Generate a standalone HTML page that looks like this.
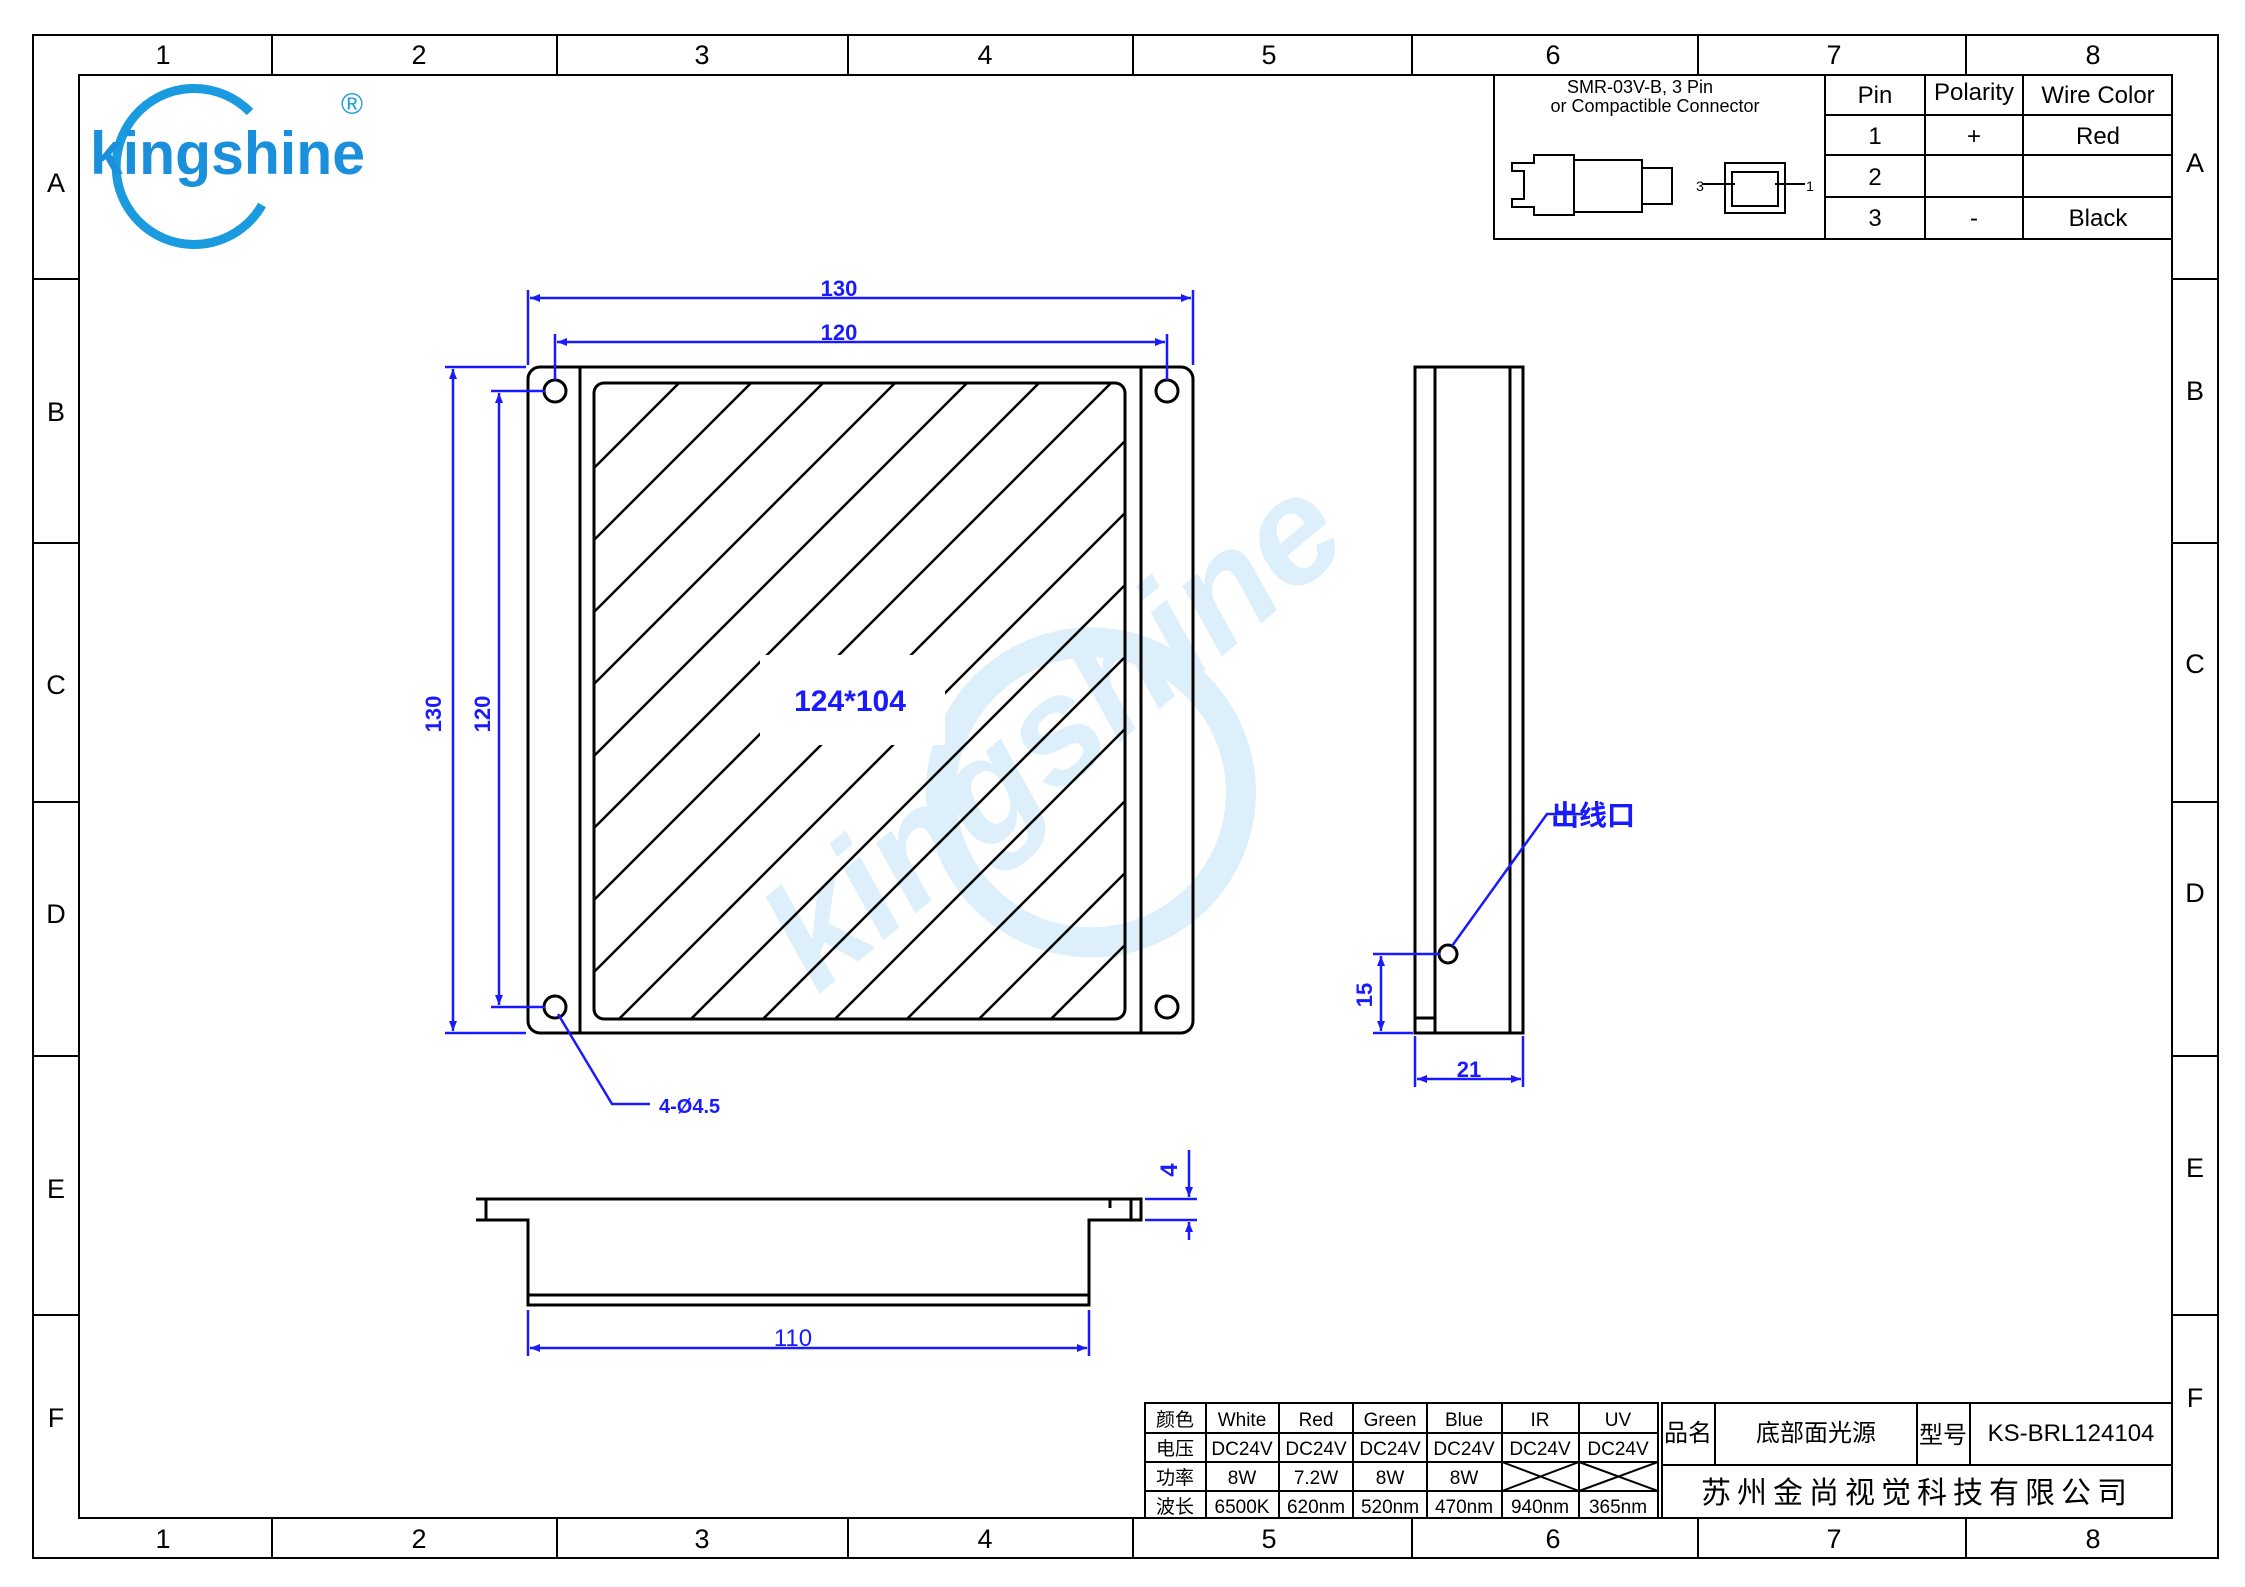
<!DOCTYPE html>
<html><head><meta charset="utf-8"><style>
html,body{margin:0;padding:0;background:#fff;width:2245px;height:1587px;overflow:hidden}
svg{display:block}
text{font-family:"Liberation Sans","Noto Sans CJK SC",sans-serif}
.g{font-size:27px;fill:#000;text-anchor:middle}
.b{fill:#1a1aff;font-weight:bold;text-anchor:middle}
.ct{font-family:"Liberation Serif","Noto Serif CJK SC",serif;font-size:19px;text-anchor:middle}
</style></head><body>
<svg width="2245" height="1587" viewBox="0 0 2245 1587" xmlns="http://www.w3.org/2000/svg">
<defs>
<clipPath id="hc"><rect x="594" y="383" width="531" height="636" rx="10"/></clipPath>
<marker id="ar" markerWidth="10" markerHeight="8" refX="10" refY="4" orient="auto" markerUnits="userSpaceOnUse"><path d="M0,0 L10,4 L0,8 z" fill="#1a1aff"/></marker>
<marker id="al" markerWidth="10" markerHeight="8" refX="0" refY="4" orient="auto" markerUnits="userSpaceOnUse"><path d="M10,0 L0,4 L10,8 z" fill="#1a1aff"/></marker>
</defs>
<rect x="33" y="35" width="2185" height="1523" fill="none" stroke="#000" stroke-width="2"/>
<rect x="79" y="75" width="2093" height="1443" fill="none" stroke="#000" stroke-width="2"/>
<g stroke="#000" stroke-width="2">
<line x1="272" y1="35" x2="272" y2="75"/><line x1="557" y1="35" x2="557" y2="75"/><line x1="848" y1="35" x2="848" y2="75"/><line x1="1133" y1="35" x2="1133" y2="75"/><line x1="1412" y1="35" x2="1412" y2="75"/><line x1="1698" y1="35" x2="1698" y2="75"/><line x1="1966" y1="35" x2="1966" y2="75"/>
<line x1="272" y1="1518" x2="272" y2="1558"/><line x1="557" y1="1518" x2="557" y2="1558"/><line x1="848" y1="1518" x2="848" y2="1558"/><line x1="1133" y1="1518" x2="1133" y2="1558"/><line x1="1412" y1="1518" x2="1412" y2="1558"/><line x1="1698" y1="1518" x2="1698" y2="1558"/><line x1="1966" y1="1518" x2="1966" y2="1558"/>
<line x1="33" y1="279" x2="79" y2="279"/><line x1="33" y1="543" x2="79" y2="543"/><line x1="33" y1="802" x2="79" y2="802"/><line x1="33" y1="1056" x2="79" y2="1056"/><line x1="33" y1="1315" x2="79" y2="1315"/>
<line x1="2172" y1="279" x2="2218" y2="279"/><line x1="2172" y1="543" x2="2218" y2="543"/><line x1="2172" y1="802" x2="2218" y2="802"/><line x1="2172" y1="1056" x2="2218" y2="1056"/><line x1="2172" y1="1315" x2="2218" y2="1315"/>
</g>
<g class="g">
<text x="163" y="64">1</text><text x="419" y="64">2</text><text x="702" y="64">3</text><text x="985" y="64">4</text><text x="1269" y="64">5</text><text x="1553" y="64">6</text><text x="1834" y="64">7</text><text x="2093" y="64">8</text>
<text x="163" y="1548">1</text><text x="419" y="1548">2</text><text x="702" y="1548">3</text><text x="985" y="1548">4</text><text x="1269" y="1548">5</text><text x="1553" y="1548">6</text><text x="1834" y="1548">7</text><text x="2093" y="1548">8</text>
<text x="56" y="192">A</text><text x="56" y="421">B</text><text x="56" y="694">C</text><text x="56" y="923">D</text><text x="56" y="1198">E</text><text x="56" y="1427">F</text>
<text x="2195" y="172">A</text><text x="2195" y="400">B</text><text x="2195" y="673">C</text><text x="2195" y="902">D</text><text x="2195" y="1177">E</text><text x="2195" y="1407">F</text>
</g>
<path d="M250,112 A78,78 0 1 0 262,205" fill="none" stroke="#1a9be0" stroke-width="9"/>
<text x="90" y="174" font-size="60" font-weight="bold" fill="#1a8fdc" textLength="275" lengthAdjust="spacingAndGlyphs">kingshine</text>
<text x="352" y="114" font-size="30" fill="#1a9be0" text-anchor="middle">®</text>
<g opacity="0.15" transform="rotate(-40 1060 740)">
<circle cx="1050" cy="800" r="150" fill="none" stroke="#1a9be0" stroke-width="30"/>
<text x="1060" y="780" font-size="150" font-weight="bold" fill="#1a9be0" text-anchor="middle" font-style="italic">kingshine</text>
</g>
<g stroke="#000" stroke-width="2" fill="none">
<rect x="1494" y="75" width="678" height="164"/>
<line x1="1825" y1="75" x2="1825" y2="239"/><line x1="1925" y1="75" x2="1925" y2="239"/><line x1="2023" y1="75" x2="2023" y2="239"/>
<line x1="1825" y1="115" x2="2172" y2="115"/><line x1="1825" y1="155" x2="2172" y2="155"/><line x1="1825" y1="197" x2="2172" y2="197"/>
<path d="M1512,163 h22 v-8 h40 v60 h-40 v-8 h-22 v-8 h12 v-28 h-12 z"/>
<rect x="1574" y="160" width="68" height="52"/>
<rect x="1642" y="168" width="30" height="36"/>
<rect x="1725" y="163" width="60" height="50"/>
<rect x="1732" y="172" width="46" height="34"/>
<line x1="1702" y1="184" x2="1735" y2="184"/><line x1="1775" y1="184" x2="1805" y2="184"/>
</g>
<g font-size="18" fill="#000" text-anchor="middle"><text x="1640" y="93">SMR-03V-B, 3 Pin</text><text x="1655" y="112">or Compactible Connector</text>
<text x="1700" y="191" font-size="14">3</text><text x="1810" y="191" font-size="14">1</text></g>
<g font-size="24" fill="#000" text-anchor="middle">
<text x="1875" y="103">Pin</text><text x="1974" y="100">Polarity</text><text x="2098" y="103">Wire Color</text>
<text x="1875" y="144">1</text><text x="1974" y="144">+</text><text x="2098" y="144">Red</text>
<text x="1875" y="185">2</text>
<text x="1875" y="226">3</text><text x="1974" y="226">-</text><text x="2098" y="226">Black</text>
</g>
<g stroke="#000" stroke-width="3" fill="none">
<rect x="528" y="367" width="665" height="666" rx="12"/>
<line x1="580" y1="367" x2="580" y2="1033"/><line x1="1141" y1="367" x2="1141" y2="1033"/>
<rect x="594" y="383" width="531" height="636" rx="10"/>
<circle cx="555" cy="391" r="11"/><circle cx="1167" cy="391" r="11"/><circle cx="555" cy="1007" r="11"/><circle cx="1167" cy="1007" r="11"/>
</g>
<g clip-path="url(#hc)" stroke="#000" stroke-width="2.5">
<line x1="0" y1="1062" x2="1100" y2="-38"/><line x1="0" y1="1134" x2="1200" y2="-66"/><line x1="0" y1="1206" x2="1300" y2="-94"/><line x1="0" y1="1278" x2="1400" y2="-122"/><line x1="0" y1="1350" x2="1400" y2="-50"/><line x1="0" y1="1422" x2="1500" y2="-78"/><line x1="0" y1="1494" x2="1600" y2="-106"/><line x1="0" y1="1566" x2="1700" y2="-134"/><line x1="0" y1="1638" x2="1700" y2="-62"/><line x1="0" y1="1710" x2="1800" y2="-90"/><line x1="0" y1="1782" x2="1900" y2="-118"/><line x1="0" y1="1854" x2="2000" y2="-146"/><line x1="0" y1="1926" x2="2000" y2="-74"/><line x1="0" y1="1998" x2="2100" y2="-102"/><line x1="0" y1="2070" x2="2100" y2="-30"/><line x1="0" y1="2142" x2="2200" y2="-58"/>
</g>
<rect x="760" y="655" width="185" height="90" fill="#fff"/>
<text x="850" y="711" class="b" font-size="30" font-weight="normal">124*104</text>
<g stroke="#1a1aff" stroke-width="2.5" fill="none">
<line x1="528" y1="290" x2="528" y2="365"/><line x1="1193" y1="290" x2="1193" y2="365"/>
<line x1="530" y1="298" x2="1191" y2="298" marker-start="url(#al)" marker-end="url(#ar)"/>
<line x1="555" y1="334" x2="555" y2="380"/><line x1="1167" y1="334" x2="1167" y2="380"/>
<line x1="557" y1="342" x2="1165" y2="342" marker-start="url(#al)" marker-end="url(#ar)"/>
<line x1="445" y1="367" x2="526" y2="367"/><line x1="445" y1="1033" x2="526" y2="1033"/>
<line x1="453" y1="369" x2="453" y2="1031" marker-start="url(#al)" marker-end="url(#ar)"/>
<line x1="491" y1="391" x2="545" y2="391"/><line x1="491" y1="1007" x2="545" y2="1007"/>
<line x1="499" y1="393" x2="499" y2="1005" marker-start="url(#al)" marker-end="url(#ar)"/>
<polyline points="558,1014 612,1104 650,1104"/>
</g>
<g class="b" font-size="22" font-weight="normal">
<text x="839" y="296">130</text><text x="839" y="340">120</text>
<text x="441" y="714" transform="rotate(-90 441 714)">130</text>
<text x="490" y="714" transform="rotate(-90 490 714)">120</text>
<text x="659" y="1113" text-anchor="start" font-weight="bold" font-size="20">4-Ø4.5</text>
</g>
<g stroke="#000" stroke-width="3" fill="none">
<rect x="1415" y="367" width="108" height="666"/>
<line x1="1435" y1="367" x2="1435" y2="1033"/><line x1="1510" y1="367" x2="1510" y2="1033"/>
<line x1="1415" y1="1018" x2="1435" y2="1018"/>
<circle cx="1448" cy="954" r="9"/>
</g>
<g stroke="#1a1aff" stroke-width="2.5" fill="none">
<polyline points="1452,946 1547,814 1583,814"/>
<line x1="1373" y1="954" x2="1440" y2="954"/><line x1="1373" y1="1033" x2="1413" y2="1033"/>
<line x1="1381" y1="956" x2="1381" y2="1031" marker-start="url(#al)" marker-end="url(#ar)"/>
<line x1="1415" y1="1036" x2="1415" y2="1087"/><line x1="1523" y1="1036" x2="1523" y2="1087"/>
<line x1="1417" y1="1079" x2="1521" y2="1079" marker-start="url(#al)" marker-end="url(#ar)"/>
</g>
<text x="1593" y="825" class="b" font-size="28" text-anchor="start">出线口</text>
<g class="b" font-size="22"><text x="1372" y="995" transform="rotate(-90 1372 995)">15</text><text x="1469" y="1077">21</text></g>
<g stroke="#000" stroke-width="3" fill="none">
<polyline points="476,1199 1141,1199 1141,1220 1089,1220 1089,1305 528,1305 528,1220 476,1220 z"/>
<line x1="528" y1="1295" x2="1089" y2="1295"/>
<line x1="486" y1="1199" x2="486" y2="1220"/><line x1="1131" y1="1199" x2="1131" y2="1220"/>
<line x1="1110" y1="1199" x2="1110" y2="1208"/>
</g>
<g stroke="#1a1aff" stroke-width="2.5" fill="none">
<line x1="528" y1="1310" x2="528" y2="1356"/><line x1="1089" y1="1310" x2="1089" y2="1356"/>
<line x1="530" y1="1348" x2="1087" y2="1348" marker-start="url(#al)" marker-end="url(#ar)"/>
<line x1="1145" y1="1199" x2="1197" y2="1199"/><line x1="1145" y1="1220" x2="1197" y2="1220"/>
<line x1="1189" y1="1150" x2="1189" y2="1197" marker-end="url(#ar)"/><line x1="1189" y1="1240" x2="1189" y2="1222" marker-end="url(#ar)"/>
</g>
<g class="b" font-size="24"><text x="793" y="1346" font-weight="normal">110</text><text x="1177" y="1170" transform="rotate(-90 1177 1170)">4</text></g>
<g stroke="#000" stroke-width="2" fill="none">
<rect x="1145" y="1403" width="513" height="115"/>
<line x1="1206" y1="1403" x2="1206" y2="1518"/><line x1="1279" y1="1403" x2="1279" y2="1518"/><line x1="1353" y1="1403" x2="1353" y2="1518"/><line x1="1427" y1="1403" x2="1427" y2="1518"/><line x1="1502" y1="1403" x2="1502" y2="1518"/><line x1="1579" y1="1403" x2="1579" y2="1518"/>
<line x1="1145" y1="1433" x2="1658" y2="1433"/><line x1="1145" y1="1462" x2="1658" y2="1462"/><line x1="1145" y1="1491" x2="1658" y2="1491"/>
<line x1="1502" y1="1462" x2="1579" y2="1491"/><line x1="1502" y1="1491" x2="1579" y2="1462"/><line x1="1579" y1="1462" x2="1658" y2="1491"/><line x1="1579" y1="1491" x2="1658" y2="1462"/>
<rect x="1662" y="1403" width="510" height="115"/>
<line x1="1715" y1="1403" x2="1715" y2="1465"/><line x1="1917" y1="1403" x2="1917" y2="1465"/><line x1="1970" y1="1403" x2="1970" y2="1465"/>
<line x1="1662" y1="1465" x2="2172" y2="1465"/>
</g>
<g class="ct">
<text x="1175" y="1426">颜色</text><text x="1242" y="1426">White</text><text x="1316" y="1426">Red</text><text x="1390" y="1426">Green</text><text x="1464" y="1426">Blue</text><text x="1540" y="1426">IR</text><text x="1618" y="1426">UV</text>
<text x="1175" y="1455">电压</text><text x="1242" y="1455">DC24V</text><text x="1316" y="1455">DC24V</text><text x="1390" y="1455">DC24V</text><text x="1464" y="1455">DC24V</text><text x="1540" y="1455">DC24V</text><text x="1618" y="1455">DC24V</text>
<text x="1175" y="1484">功率</text><text x="1242" y="1484">8W</text><text x="1316" y="1484">7.2W</text><text x="1390" y="1484">8W</text><text x="1464" y="1484">8W</text>
<text x="1175" y="1513">波长</text><text x="1242" y="1513">6500K</text><text x="1316" y="1513">620nm</text><text x="1390" y="1513">520nm</text><text x="1464" y="1513">470nm</text><text x="1540" y="1513">940nm</text><text x="1618" y="1513">365nm</text>
</g>
<g font-size="24" fill="#000" text-anchor="middle">
<text x="1688" y="1441">品名</text><text x="1816" y="1441">底部面光源</text><text x="1943" y="1443">型号</text><text x="2071" y="1441">KS-BRL124104</text>
<text x="1917" y="1503" font-size="30" letter-spacing="6">苏州金尚视觉科技有限公司</text>
</g>
</svg>
</body></html>
